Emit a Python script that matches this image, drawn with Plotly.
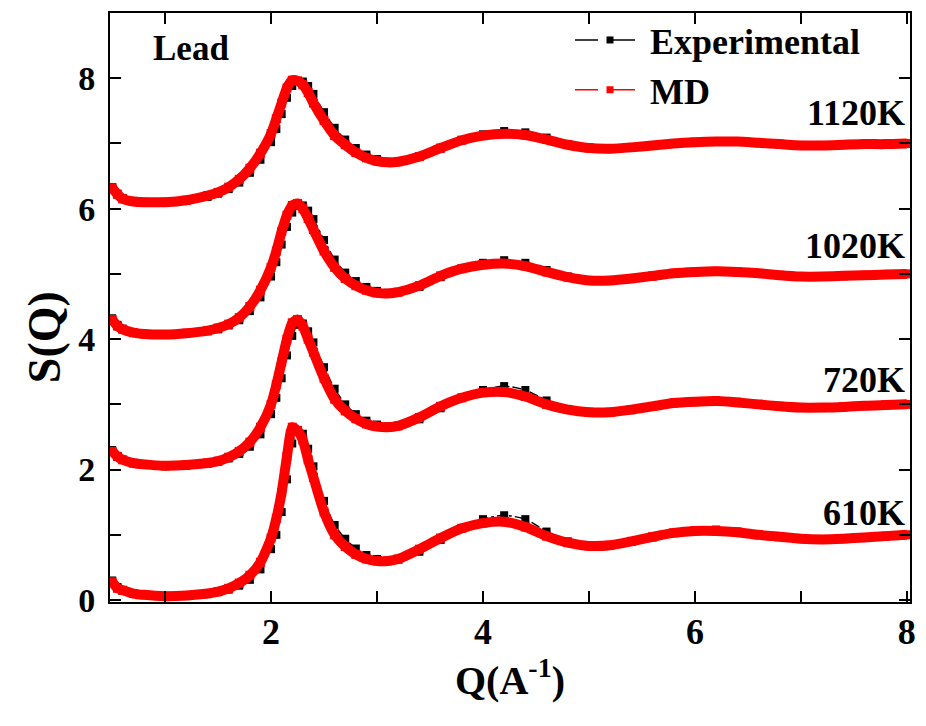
import plotly.graph_objects as go

# ---- data ----
Q = [0.5, 0.55, 0.6, 0.7, 0.8, 1.0, 1.2, 1.4, 1.5, 1.6, 1.7, 1.8, 1.9, 2.0, 2.05, 2.1,
     2.15, 2.2, 2.25, 2.3, 2.35, 2.4, 2.5, 2.6, 2.7, 2.8, 2.9, 3.0, 3.1, 3.2, 3.4, 3.6,
     3.8, 4.0, 4.2, 4.4, 4.6, 4.8, 5.0, 5.2, 5.4, 5.6, 5.8, 6.0, 6.2, 6.4, 6.6, 6.8,
     7.0, 7.2, 7.4, 7.6, 7.8, 8.0]

temperatures = ["610K", "720K", "1020K", "1120K"]
offsets = [0, 2, 4, 6]

md_610 = [0.28, 0.18, 0.15, 0.10, 0.08, 0.06, 0.07, 0.10, 0.13, 0.18, 0.26, 0.38, 0.58, 0.95, 1.25, 1.65,
          2.20, 2.65, 2.60, 2.45, 2.15, 1.88, 1.35, 1.00, 0.82, 0.70, 0.63, 0.60, 0.60, 0.63, 0.78, 0.95,
          1.10, 1.18, 1.20, 1.12, 0.98, 0.88, 0.83, 0.84, 0.90, 0.97, 1.03, 1.06, 1.06, 1.04, 1.00, 0.97,
          0.94, 0.93, 0.94, 0.96, 0.98, 1.00]
md_720 = [0.28, 0.20, 0.15, 0.10, 0.08, 0.06, 0.07, 0.10, 0.13, 0.19, 0.28, 0.42, 0.65, 1.00, 1.30, 1.65,
          2.00, 2.25, 2.30, 2.20, 2.00, 1.80, 1.40, 1.08, 0.90, 0.78, 0.70, 0.66, 0.65, 0.67, 0.80, 0.97,
          1.10, 1.18, 1.19, 1.12, 1.00, 0.92, 0.88, 0.88, 0.92, 0.97, 1.02, 1.04, 1.05, 1.03, 1.00, 0.97,
          0.95, 0.95, 0.96, 0.98, 0.99, 1.00]
md_1020 = [0.30, 0.20, 0.15, 0.10, 0.08, 0.07, 0.09, 0.13, 0.17, 0.23, 0.33, 0.50, 0.75, 1.10, 1.35, 1.65,
           1.90, 2.05, 2.08, 2.00, 1.85, 1.68, 1.35, 1.10, 0.93, 0.82, 0.75, 0.71, 0.70, 0.72, 0.82, 0.97,
           1.08, 1.14, 1.16, 1.12, 1.03, 0.95, 0.90, 0.90, 0.93, 0.97, 1.01, 1.03, 1.04, 1.03, 1.01, 0.98,
           0.96, 0.96, 0.97, 0.98, 0.99, 1.00]
md_1120 = [0.32, 0.22, 0.15, 0.11, 0.10, 0.10, 0.13, 0.20, 0.25, 0.33, 0.45, 0.62, 0.85, 1.15, 1.38, 1.62,
           1.85, 1.97, 1.96, 1.90, 1.78, 1.62, 1.35, 1.12, 0.98, 0.86, 0.78, 0.73, 0.71, 0.72, 0.80, 0.93,
           1.05, 1.12, 1.15, 1.13, 1.06, 0.98, 0.93, 0.92, 0.94, 0.97, 1.00, 1.02, 1.03, 1.03, 1.01, 0.99,
           0.97, 0.97, 0.98, 0.99, 0.99, 1.00]

exp_610 = [0.30, 0.20, 0.14, 0.10, 0.08, 0.06, 0.06, 0.09, 0.12, 0.16, 0.22, 0.31, 0.47, 0.78, 1.00, 1.35,
           1.85, 2.40, 2.60, 2.55, 2.32, 2.05, 1.52, 1.15, 0.94, 0.79, 0.69, 0.63, 0.60, 0.62, 0.74, 0.92,
           1.10, 1.24, 1.30, 1.24, 1.05, 0.90, 0.84, 0.84, 0.89, 0.96, 1.03, 1.07, 1.08, 1.05, 1.01, 0.97,
           0.94, 0.93, 0.94, 0.96, 0.98, 1.00]
exp_720 = [0.30, 0.21, 0.15, 0.10, 0.07, 0.05, 0.06, 0.09, 0.12, 0.17, 0.24, 0.35, 0.54, 0.85, 1.10, 1.40,
           1.75, 2.05, 2.22, 2.24, 2.12, 1.95, 1.57, 1.24, 1.00, 0.85, 0.75, 0.69, 0.66, 0.67, 0.77, 0.94,
           1.10, 1.22, 1.28, 1.22, 1.06, 0.93, 0.88, 0.88, 0.91, 0.96, 1.02, 1.05, 1.06, 1.04, 1.00, 0.97,
           0.95, 0.95, 0.96, 0.98, 0.99, 1.00]
exp_1020 = [0.32, 0.22, 0.16, 0.11, 0.08, 0.07, 0.08, 0.12, 0.15, 0.21, 0.29, 0.43, 0.64, 0.96, 1.18, 1.45,
            1.72, 1.94, 2.04, 2.05, 1.97, 1.84, 1.52, 1.22, 1.02, 0.89, 0.80, 0.74, 0.71, 0.72, 0.80, 0.95,
            1.08, 1.17, 1.21, 1.17, 1.06, 0.96, 0.90, 0.89, 0.92, 0.96, 1.00, 1.03, 1.04, 1.03, 1.01, 0.98,
            0.96, 0.96, 0.97, 0.98, 0.99, 1.00]
exp_1120 = [0.33, 0.23, 0.16, 0.12, 0.10, 0.09, 0.12, 0.18, 0.23, 0.30, 0.40, 0.55, 0.75, 1.02, 1.22, 1.45,
            1.70, 1.88, 1.95, 1.95, 1.88, 1.76, 1.48, 1.24, 1.06, 0.93, 0.83, 0.76, 0.72, 0.72, 0.79, 0.92,
            1.05, 1.14, 1.19, 1.17, 1.09, 0.99, 0.94, 0.92, 0.94, 0.97, 1.00, 1.02, 1.03, 1.03, 1.01, 0.99,
            0.97, 0.97, 0.98, 0.99, 0.99, 1.00]

x_ticks = [2, 4, 6, 8]
y_ticks = [0, 2, 4, 6, 8]

md_sets = [md_610, md_720, md_1020, md_1120]
exp_sets = [exp_610, exp_720, exp_1020, exp_1120]
label_y = [1.34, 3.38, 5.43, 7.47]

FONT = "Liberation Serif"

fig = go.Figure()

for exp_vals, off in zip(exp_sets, offsets):
    fig.add_trace(go.Scatter(
        x=Q, y=[v + off for v in exp_vals], mode="lines+markers",
        line=dict(color="black", width=1.5, dash="dashdot", shape="spline", smoothing=0.6),
        marker=dict(symbol="square", size=8, color="black"),
        showlegend=False, hoverinfo="skip"))
for md_vals, off in zip(md_sets, offsets):
    fig.add_trace(go.Scatter(
        x=Q, y=[v + off for v in md_vals], mode="lines+markers",
        line=dict(color="#ff0000", width=10, shape="spline", smoothing=0.6),
        marker=dict(symbol="square", size=9, color="#ff0000"),
        showlegend=False, hoverinfo="skip"))

# legend entries
fig.add_trace(go.Scatter(x=[None], y=[None], mode="lines+markers", name="<b>Experimental</b>",
                         line=dict(color="black", width=1.5, dash="23px,14px"),
                         marker=dict(symbol="square", size=7, color="black")))
fig.add_trace(go.Scatter(x=[None], y=[None], mode="lines+markers", name="<b>MD</b>",
                         line=dict(color="#ff0000", width=1.5, dash="23px,14px"),
                         marker=dict(symbol="square", size=7, color="#ff0000")))

for t, yl in zip(temperatures, label_y):
    fig.add_annotation(x=8.0, y=yl, xref="x", yref="y", text="<b>%s</b>" % t,
                       showarrow=False, xanchor="right", yanchor="middle",
                       font=dict(family=FONT, size=36, color="black"))

fig.add_annotation(x=1.24, y=8.45, xref="x", yref="y", text="<b>Lead</b>",
                   showarrow=False, font=dict(family=FONT, size=35, color="black"))

fig.add_annotation(x=-0.081, y=0.45, xref="paper", yref="paper", text="<b>S(Q)</b>",
                   textangle=-90, showarrow=False, xanchor="center", yanchor="middle",
                   font=dict(family=FONT, size=46, color="black"))

minor_ticks = dict(dtick=1, ticks="inside", ticklen=11, tickwidth=1.5,
                   tickcolor="black", showgrid=False)

fig.update_xaxes(range=[0.48, 8.03], tickmode="array", tickvals=x_ticks,
                 ticktext=["<b>%d</b>" % v for v in x_ticks],
                 showline=True, linecolor="black", linewidth=2, mirror="ticks",
                 ticks="inside", ticklen=11, tickwidth=1.5, tickcolor="black",
                 showgrid=False, zeroline=False, minor=minor_ticks,
                 ticklabelstandoff=-3,
                 tickfont=dict(family=FONT, size=36, color="black"),
                 title=dict(text="<b>Q(A<sup>-1</sup>)</b>", standoff=14,
                            font=dict(family=FONT, size=40, color="black")))
fig.update_yaxes(range=[-0.03, 9.0], tickmode="array", tickvals=y_ticks,
                 ticktext=["<b>%d</b>" % v for v in y_ticks],
                 showline=True, linecolor="black", linewidth=2, mirror="ticks",
                 ticks="inside", ticklen=11, tickwidth=1.5, tickcolor="black",
                 showgrid=False, zeroline=False, minor=minor_ticks,
                 tickfont=dict(family=FONT, size=34, color="black"),
                 ticklabelstandoff=6)

fig.update_layout(
    width=926, height=726,
    font=dict(family=FONT, size=28, color="black"),
    margin=dict(l=110, r=16, t=10, b=124),
    paper_bgcolor="white", plot_bgcolor="white",
    legend=dict(x=0.575, y=1.005, xanchor="left", yanchor="top",
                bgcolor="rgba(0,0,0,0)", itemwidth=70, tracegroupgap=0,
                font=dict(family=FONT, size=36, color="black")),
)

fig.write_html("out.html")
